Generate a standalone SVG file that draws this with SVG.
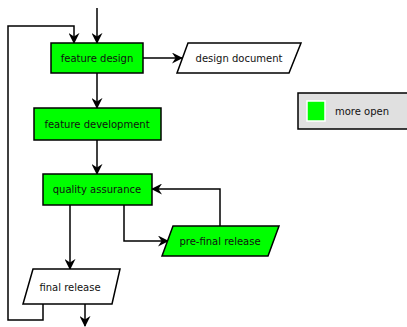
<svg xmlns="http://www.w3.org/2000/svg" width="407" height="327" viewBox="0 0 407 327">
<defs>
<marker id="arr" viewBox="0 0 12 12" refX="11" refY="6" markerWidth="11" markerHeight="11" markerUnits="userSpaceOnUse" orient="auto">
<path d="M0,0 L12,6 L0,12 L4,6 Z" fill="#000"/>
</marker>
<style>
.box{fill:#00ff00;stroke:#000;stroke-width:1.5}
.doc{fill:#fff;stroke:#000;stroke-width:1.5}
.t{font-family:"DejaVu Sans",sans-serif;font-size:10px;fill:#111;text-anchor:middle;dominant-baseline:central}
.c{fill:none;stroke:#000;stroke-width:1.5}
</style>
</defs>
<rect width="407" height="327" fill="#fff"/>
<g id="connectors">
<path class="c" d="M97,8 V43" marker-end="url(#arr)"/>
<path class="c" d="M43,304 V320 H8 V26 H74 V43" marker-end="url(#arr)"/>
<path class="c" d="M143,58 H182" marker-end="url(#arr)"/>
<path class="c" d="M97,73 V108" marker-end="url(#arr)"/>
<path class="c" d="M97,140 V174" marker-end="url(#arr)"/>
<path class="c" d="M220,226 V189 H152" marker-end="url(#arr)"/>
<path class="c" d="M124,205 V241 H168" marker-end="url(#arr)"/>
<path class="c" d="M70,205 V269" marker-end="url(#arr)"/>
<path class="c" d="M85,304 V326" marker-end="url(#arr)"/>
</g>
<g id="feature-design">
<rect class="box" x="51" y="43" width="92" height="30"/>
<text class="t" x="97" y="58">feature design</text>
</g>
<g id="design-document">
<polygon class="doc" points="188,43 301,43 289,73 177,73"/>
<text class="t" x="239" y="58">design document</text>
</g>
<g id="feature-development">
<rect class="box" x="34" y="108" width="127" height="32"/>
<text class="t" x="97" y="124">feature development</text>
</g>
<g id="quality-assurance">
<rect class="box" x="43" y="174" width="109" height="31"/>
<text class="t" x="97" y="189">quality assurance</text>
</g>
<g id="pre-final-release">
<polygon class="box" points="173,226 279,226 268,256 162,256"/>
<text class="t" x="220" y="241">pre-final release</text>
</g>
<g id="final-release">
<polygon class="doc" points="33,269 120,269 112,304 23,304"/>
<text class="t" x="70" y="287">final release</text>
</g>
<g id="legend">
<rect x="298" y="93" width="112" height="36" fill="#e0e0e0" stroke="#000" stroke-width="1.5"/>
<rect x="307" y="101" width="18" height="20" fill="#00ff00" stroke="#fff" stroke-width="1.5"/>
<text class="t" x="335" y="111" style="text-anchor:start">more open</text>
</g>
</svg>
